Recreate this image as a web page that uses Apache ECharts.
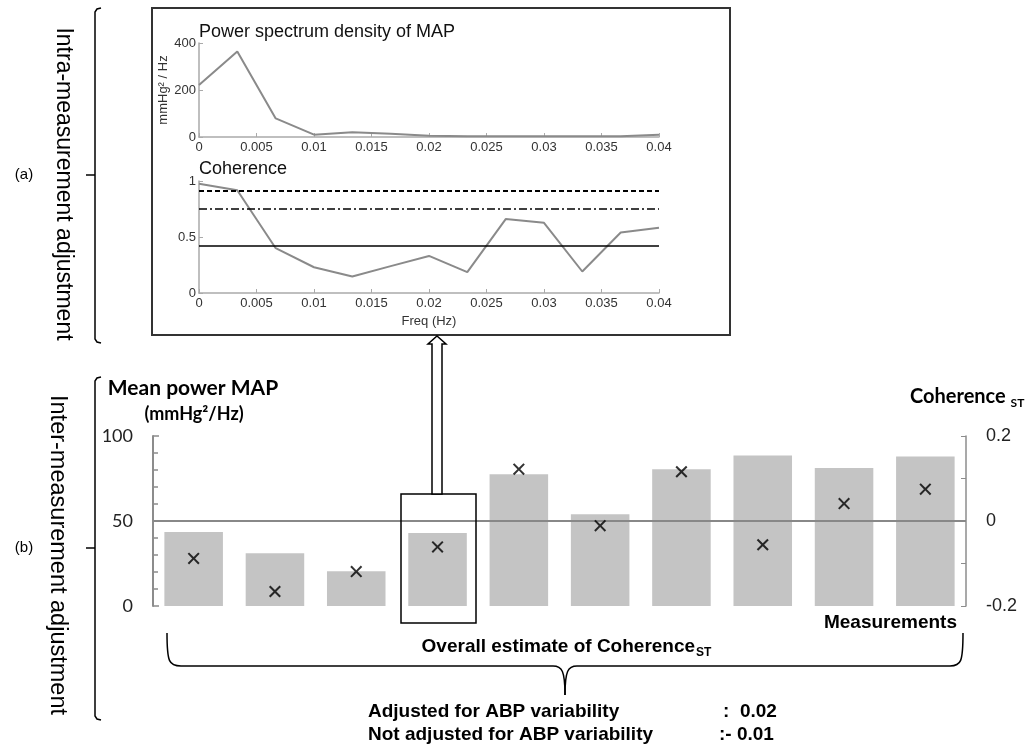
<!DOCTYPE html>
<html>
<head>
<meta charset="utf-8">
<script src="https://cdn.jsdelivr.net/npm/echarts@6/dist/echarts.min.js"></script>
<style>
  html, body { margin: 0; padding: 0; background: #fff; }
  #chart { width: 1035px; height: 749px; }
</style>
</head>
<body>
<div id="chart"></div>
<script>
// inset: power spectrum + coherence of one measurement
const freqs = [0, 0.00333, 0.00667, 0.01, 0.01333, 0.01667, 0.02, 0.02333, 0.02667, 0.03, 0.03333, 0.03667, 0.04]
const psdMAP = [221, 364, 79, 10, 20, 14, 5, 3, 3, 3, 3, 3, 10]
const coherence = [0.976, 0.917, 0.40, 0.23, 0.148, 0.24, 0.331, 0.186, 0.66, 0.627, 0.192, 0.54, 0.583]
const thresholds = [0.905, 0.75, 0.42]

// main panel: all measurements
const measurements = ['1', '2', '3', '4', '5', '6', '7', '8', '9', '10']
const meanPower = [43.5, 31, 20.4, 43, 77.5, 54, 80.4, 88.6, 81.2, 88]
const coherenceST = [-0.088, -0.166, -0.119, -0.061, 0.122, -0.011, 0.116, -0.056, 0.041, 0.075]

const ARIAL = '"Liberation Sans", Arial, sans-serif'
const CALIBRI = 'Lato, "Open Sans", sans-serif'

const measureCtx = document.createElement('canvas').getContext('2d')
const textWidth = (text, font) => {
  measureCtx.font = font
  return measureCtx.measureText(text).width
}

const chart = echarts.init(document.getElementById('chart'), null, { renderer: 'canvas' })

const insetX = (gridIndex, name) => ({
  gridIndex,
  type: 'value',
  min: 0,
  max: 0.04,
  interval: 0.005,
  name,
  nameLocation: 'middle',
  nameGap: 22,
  nameTextStyle: { color: '#333', fontSize: 13, fontFamily: ARIAL },
  axisLine: { lineStyle: { color: '#aaa', width: 1.5 } },
  axisTick: { inside: true, length: 4, lineStyle: { color: '#aaa' } },
  axisLabel: { color: '#333', fontSize: 13, fontFamily: ARIAL, margin: 4 },
  splitLine: { show: false }
})

const insetY = (gridIndex, max, interval, name) => ({
  gridIndex,
  type: 'value',
  min: 0,
  max,
  interval,
  name,
  nameLocation: 'middle',
  nameRotate: 90,
  nameGap: 27,
  nameTextStyle: { color: '#333', fontSize: 13, fontFamily: ARIAL },
  axisLine: { show: true, lineStyle: { color: '#aaa', width: 1.5 } },
  axisTick: { show: true, inside: true, length: 4, lineStyle: { color: '#aaa' } },
  axisLabel: { color: '#333', fontSize: 13, fontFamily: ARIAL, margin: 3 },
  splitLine: { show: false }
})

// subscript helper: main text + smaller lowered text, laid out side by side
const withSub = (main, sub, x, y, size, subSize, opts) => {
  const f1 = `bold ${size}px ${opts.font}`
  const f2 = `bold ${subSize}px ${opts.font}`
  const w1 = textWidth(main, f1)
  const w2 = textWidth(sub, f2)
  const left = opts.center ? x - (w1 + w2) / 2 : x
  return [
    { type: 'text', z: 100, style: { text: main, x: left, y, font: f1, fill: '#000', verticalAlign: 'middle' } },
    { type: 'text', z: 100, style: { text: sub, x: left + w1 + opts.gap, y: y + size * 0.32, font: f2, fill: '#000', verticalAlign: 'middle' } }
  ]
}

const black = { stroke: '#000', lineWidth: 1.5, fill: null }

const option = {
  animation: false,
  backgroundColor: '#fff',
  grid: [
    { left: 199, top: 43, width: 460, height: 94 },
    { left: 199, top: 181, width: 460, height: 112 },
    { left: 153, top: 436, width: 813, height: 170 }
  ],
  xAxis: [
    insetX(0),
    insetX(1, 'Freq (Hz)'),
    {
      gridIndex: 2,
      type: 'category',
      data: measurements,
      axisLine: { show: false },
      axisTick: { show: false },
      axisLabel: { show: false }
    }
  ],
  yAxis: [
    insetY(0, 400, 200, 'mmHg² / Hz'),
    insetY(1, 1, 0.5),
    {
      gridIndex: 2,
      type: 'value',
      min: 0,
      max: 100,
      interval: 50,
      axisLine: { show: true, lineStyle: { color: '#8c8c8c', width: 2 } },
      axisTick: { show: true, inside: true, length: 6, lineStyle: { color: '#8c8c8c', width: 1.5 } },
      minorTick: { show: true, splitNumber: 5, length: 5, lineStyle: { color: '#8c8c8c', width: 1.5 } },
      axisLabel: { color: '#222', fontSize: 18, fontFamily: CALIBRI, margin: 20 },
      splitLine: { show: false }
    },
    {
      gridIndex: 2,
      type: 'value',
      position: 'right',
      min: -0.2,
      max: 0.2,
      interval: 0.2,
      axisLine: { show: true, lineStyle: { color: '#8c8c8c', width: 1.5 } },
      axisTick: { show: true, inside: true, length: 5, lineStyle: { color: '#8c8c8c' } },
      minorTick: { show: true, splitNumber: 2, length: 5, lineStyle: { color: '#8c8c8c' } },
      axisLabel: { color: '#222', fontSize: 18, fontFamily: ARIAL, margin: 20 },
      splitLine: { show: false }
    }
  ],
  series: [
    {
      name: 'PSD MAP',
      type: 'line',
      xAxisIndex: 0,
      yAxisIndex: 0,
      data: freqs.map((f, i) => [f, psdMAP[i]]),
      showSymbol: false,
      lineStyle: { color: '#8a8a8a', width: 2 }
    },
    {
      name: 'Coherence',
      type: 'line',
      xAxisIndex: 1,
      yAxisIndex: 1,
      data: freqs.map((f, i) => [f, coherence[i]]),
      showSymbol: false,
      lineStyle: { color: '#8a8a8a', width: 2 },
      markLine: {
        silent: true,
        symbol: 'none',
        label: { show: false },
        data: [
          { yAxis: thresholds[0], lineStyle: { color: '#000', width: 2, type: [5, 3] } },
          { yAxis: thresholds[1], lineStyle: { color: '#000', width: 1.5, type: [8, 3, 2, 3] } },
          { yAxis: thresholds[2], lineStyle: { color: '#000', width: 1.5, type: 'solid' } }
        ]
      }
    },
    {
      name: 'Mean power MAP',
      type: 'bar',
      xAxisIndex: 2,
      yAxisIndex: 2,
      data: meanPower,
      barWidth: '72%',
      itemStyle: { color: '#c4c4c4' },
      markLine: {
        silent: true,
        symbol: 'none',
        label: { show: false },
        lineStyle: { color: '#888', width: 2, type: 'solid' },
        data: [{ yAxis: 50 }]
      }
    },
    {
      name: 'Coherence ST',
      type: 'scatter',
      xAxisIndex: 2,
      yAxisIndex: 3,
      data: coherenceST,
      symbol: 'path://M0,1.2L1.2,0L5,3.8L8.8,0L10,1.2L6.2,5L10,8.8L8.8,10L5,6.2L1.2,10L0,8.8L3.8,5Z',
      symbolSize: 12,
      itemStyle: { color: '#000' },
      z: 5
    }
  ],
  graphic: [
    // inset frame
    { type: 'rect', z: 90, shape: { x: 152, y: 8, width: 578, height: 327 }, style: { stroke: '#333', lineWidth: 2, fill: null } },
    { type: 'text', z: 100, style: { text: 'Power spectrum density of MAP', x: 199, y: 32, font: `18px ${ARIAL}`, fill: '#111', verticalAlign: 'middle' } },
    { type: 'text', z: 100, style: { text: 'Coherence', x: 199, y: 169, font: `18px ${ARIAL}`, fill: '#111', verticalAlign: 'middle' } },

    // left brackets
    { type: 'polyline', z: 100, shape: { points: [[101, 8], [97, 9], [95, 12], [95, 339], [97, 342], [101, 343]] }, style: black },
    { type: 'line', z: 100, shape: { x1: 86, y1: 175, x2: 95, y2: 175 }, style: black },
    { type: 'polyline', z: 100, shape: { points: [[101, 377], [97, 378], [95, 381], [95, 716], [97, 719], [101, 720]] }, style: black },
    { type: 'line', z: 100, shape: { x1: 86, y1: 548, x2: 95, y2: 548 }, style: black },
    { type: 'text', z: 100, style: { text: '(a)', x: 24, y: 175, font: `15px ${ARIAL}`, fill: '#000', align: 'center', verticalAlign: 'middle' } },
    { type: 'text', z: 100, style: { text: '(b)', x: 24, y: 548, font: `15px ${ARIAL}`, fill: '#000', align: 'center', verticalAlign: 'middle' } },
    { type: 'text', z: 100, x: 63, y: 184, rotation: -Math.PI / 2, style: { text: 'Intra-measurement adjustment', font: `23px ${ARIAL}`, fill: '#000', align: 'center', verticalAlign: 'middle' } },
    { type: 'text', z: 100, x: 57, y: 555, rotation: -Math.PI / 2, style: { text: 'Inter-measurement adjustment', font: `23.5px ${ARIAL}`, fill: '#000', align: 'center', verticalAlign: 'middle' } },

    // selected measurement box and arrow to the inset
    { type: 'rect', z: 100, shape: { x: 401, y: 494, width: 75, height: 129 }, style: { stroke: '#000', lineWidth: 1.5, fill: null } },
    {
      type: 'polygon', z: 101,
      shape: { points: [[432, 494], [432, 344], [428, 344], [437, 336], [446, 344], [442, 344], [442, 494]] },
      style: { stroke: '#000', lineWidth: 1.5, fill: '#fff' }
    },

    // axis titles of the main panel
    { type: 'text', z: 100, style: { text: 'Mean power MAP', x: 193, y: 388, font: `bold 21px ${CALIBRI}`, fill: '#000', align: 'center', verticalAlign: 'middle' } },
    { type: 'text', z: 100, style: { text: '(mmHg²/Hz)', x: 194, y: 414, font: `bold 18px ${CALIBRI}`, fill: '#000', align: 'center', verticalAlign: 'middle' } },
    ...withSub('Coherence ', 'ST', 910, 397, 20, 12, { font: CALIBRI, center: false, gap: 0 }),
    { type: 'text', z: 100, style: { text: 'Measurements', x: 957, y: 623, font: `bold 19px ${ARIAL}`, fill: '#000', align: 'right', verticalAlign: 'middle' } },
    ...withSub('Overall estimate of Coherence', 'ST', 566, 647, 19, 12, { font: ARIAL, center: true, gap: 1 }),

    // curly brace under the measurements
    { type: 'bezierCurve', z: 100, shape: { x1: 167, y1: 633, cpx1: 167, cpy1: 662, cpx2: 169, cpy2: 666, x2: 181, y2: 666 }, style: black },
    { type: 'line', z: 100, shape: { x1: 181, y1: 666, x2: 553, y2: 666 }, style: black },
    { type: 'bezierCurve', z: 100, shape: { x1: 553, y1: 666, cpx1: 562, cpy1: 666, cpx2: 565, cpy2: 671, x2: 565, y2: 695 }, style: black },
    { type: 'bezierCurve', z: 100, shape: { x1: 565, y1: 695, cpx1: 565, cpy1: 671, cpx2: 568, cpy2: 666, x2: 577, y2: 666 }, style: black },
    { type: 'line', z: 100, shape: { x1: 577, y1: 666, x2: 950, y2: 666 }, style: black },
    { type: 'bezierCurve', z: 100, shape: { x1: 950, y1: 666, cpx1: 961, cpy1: 666, cpx2: 963, cpy2: 662, x2: 963, y2: 633 }, style: black },

    // overall estimates
    { type: 'text', z: 100, style: { text: 'Adjusted for ABP variability', x: 368, y: 712, font: `bold 19px ${ARIAL}`, fill: '#000', verticalAlign: 'middle' } },
    { type: 'text', z: 100, style: { text: ':  0.02', x: 723, y: 712, font: `bold 19px ${ARIAL}`, fill: '#000', verticalAlign: 'middle' } },
    { type: 'text', z: 100, style: { text: 'Not adjusted for ABP variability', x: 368, y: 735, font: `bold 19px ${ARIAL}`, fill: '#000', verticalAlign: 'middle' } },
    { type: 'text', z: 100, style: { text: ':- 0.01', x: 719, y: 735, font: `bold 19px ${ARIAL}`, fill: '#000', verticalAlign: 'middle' } }
  ]
}

chart.setOption(option)
</script>
</body>
</html>
